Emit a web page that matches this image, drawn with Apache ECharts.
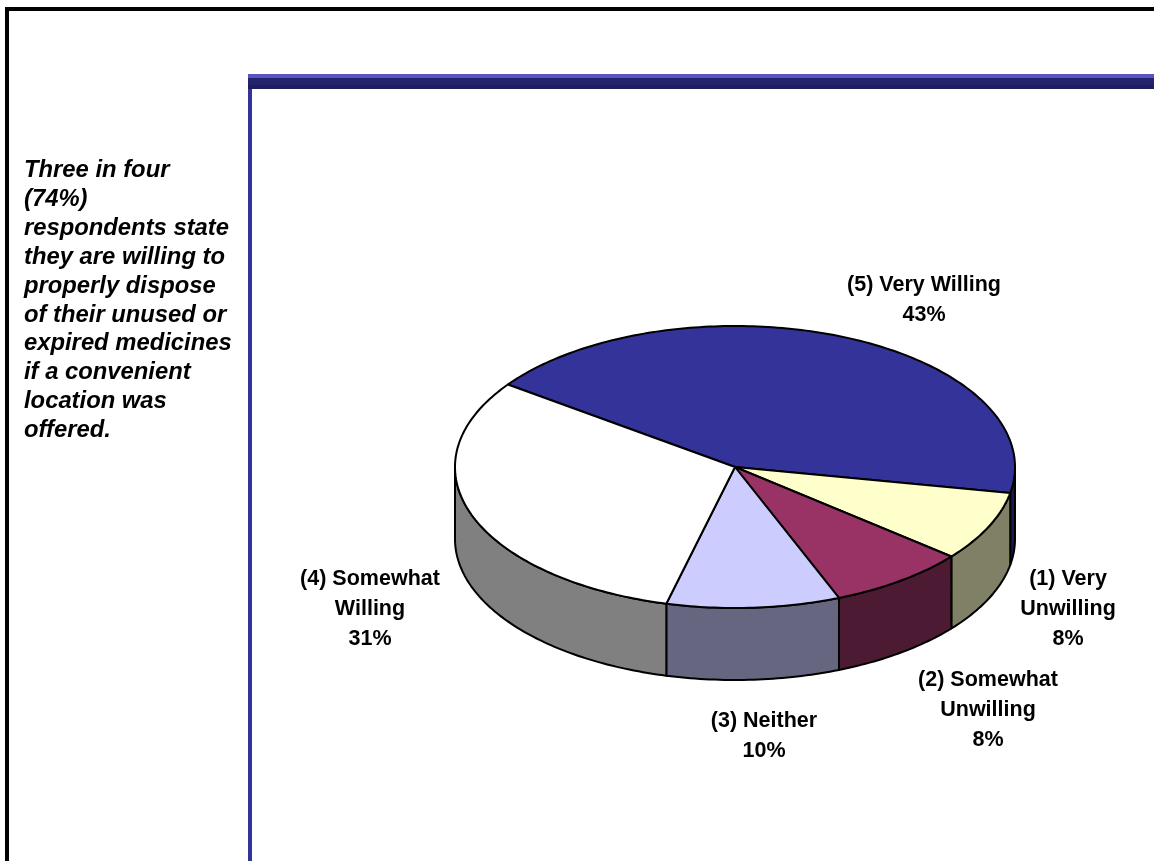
<!DOCTYPE html>
<html>
<head>
<meta charset="utf-8">
<title>Willingness to properly dispose of unused or expired medicines</title>
<style>
html, body { margin: 0; padding: 0; background: #fff; }
#chart { width: 1154px; height: 861px; }
</style>
<script src="https://cdn.jsdelivr.net/npm/echarts@6/dist/echarts.min.js"></script>
</head>
<body>
<div id="chart"></div>
<script>
// Survey responses, clockwise from the blue slice
const categories = ['(5) Very Willing', '(1) Very\nUnwilling', '(2) Somewhat\nUnwilling', '(3) Neither', '(4) Somewhat\nWilling'];
const shares = [43, 8, 8, 10, 31];
const sideNote = ['Three in four', '(74%)', 'respondents state', 'they are willing to', 'properly dispose', 'of their unused or', 'expired medicines', 'if a convenient', 'location was', 'offered.'];

// Slice appearance
const topColors = ['#333399', '#FFFFCC', '#993366', '#CCCCFF', '#FFFFFF'];
const wallColors = ['#1A1A4D', '#808066', '#4D1A33', '#666680', '#808080'];

// Pie geometry: a tilted disc drawn as an ellipse with a vertical wall
const pie = { cx: 735, cy: 467, rx: 280, ry: 141, depth: 72, firstAngle: -144.2 };
const labelAnchors = [[924, 270], [1068, 564], [988, 665], [764, 706], [370, 564]];
const labelFont = { fontFamily: '"Liberation Sans", Arial, sans-serif', fontWeight: 'bold', fontSize: 21.5, lineHeight: 30, fill: '#000', align: 'center', verticalAlign: 'top' };

const rad = d => d * Math.PI / 180;
const rimPoint = (deg, drop) => [pie.cx + pie.rx * Math.cos(rad(deg)), pie.cy + pie.ry * Math.sin(rad(deg)) + (drop || 0)];

// Points along the rim, from one angle to another
function rimArc(from, to, drop) {
  const steps = Math.max(2, Math.ceil(Math.abs(to - from)));
  const pts = [];
  for (let i = 0; i <= steps; i++) pts.push(rimPoint(from + (to - from) * i / steps, drop));
  return pts;
}

// Wall pieces of a slice: only the parts of its arc on the near side of the disc
function wallRanges(a0, a1) {
  const ranges = [];
  for (let k = -1; k <= 1; k++) {
    const lo = Math.max(a0, k * 360), hi = Math.min(a1, k * 360 + 180);
    if (hi > lo) ranges.push([lo, hi]);
  }
  return ranges;
}

function renderSlice(params, api) {
  const i = params.dataIndex;
  const total = shares.reduce((a, b) => a + b, 0);
  let before = 0;
  for (let j = 0; j < i; j++) before += shares[j];
  const a0 = pie.firstAngle + before / total * 360;
  const a1 = a0 + api.value(0) / total * 360;
  const outline = { stroke: '#000', lineWidth: 2, lineJoin: 'round' };

  const children = wallRanges(a0, a1).map(([lo, hi]) => ({
    type: 'polygon',
    shape: { points: rimArc(lo, hi, 0).concat(rimArc(hi, lo, pie.depth)) },
    style: Object.assign({ fill: wallColors[i] }, outline)
  }));
  children.push({
    type: 'polygon',
    shape: { points: [[pie.cx, pie.cy]].concat(rimArc(a0, a1, 0)) },
    style: Object.assign({ fill: topColors[i] }, outline)
  });
  children.push({
    type: 'text',
    x: labelAnchors[i][0],
    y: labelAnchors[i][1],
    style: Object.assign({ text: categories[i] + '\n' + api.value(0) + '%' }, labelFont)
  });
  return { type: 'group', children };
}

const rect = (x, y, width, height, fill) => ({ type: 'rect', silent: true, shape: { x, y, width, height }, style: { fill } });

const chart = echarts.init(document.getElementById('chart'), null, { renderer: 'canvas' });
chart.setOption({
  animation: false,
  backgroundColor: '#fff',
  graphic: [
    // Outer black frame
    rect(5, 7, 1149, 4, '#000'),
    rect(5, 7, 4, 854, '#000'),
    // Panel rule and banded header bar
    rect(248, 74, 4, 787, '#333399'),
    rect(248, 74, 906, 4, '#5A55C0'),
    rect(248, 78, 906, 7, '#24246E'),
    rect(248, 85, 906, 4, '#1E1E5E'),
    {
      type: 'text',
      silent: true,
      x: 24,
      y: 156,
      style: {
        text: sideNote.join('\n'),
        fontFamily: '"Liberation Sans", Arial, sans-serif',
        fontWeight: 'bold',
        fontStyle: 'italic',
        fontSize: 23.8,
        lineHeight: 28.9,
        fill: '#000'
      }
    }
  ],
  series: [{
    type: 'custom',
    coordinateSystem: 'none',
    clip: false,
    silent: true,
    renderItem: renderSlice,
    data: shares.map(v => [v])
  }]
});
</script>
</body>
</html>
